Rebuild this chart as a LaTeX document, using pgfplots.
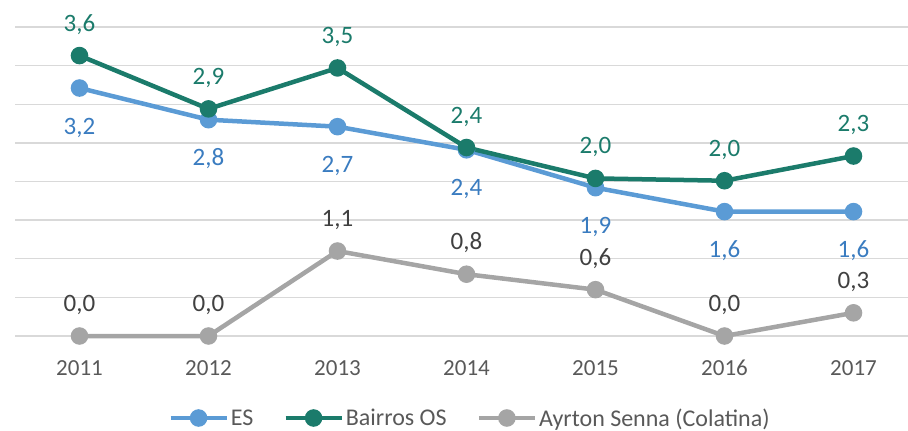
\documentclass[border=0pt]{standalone}
\usepackage{pgfplots}
\pgfplotsset{compat=1.18}
\usepackage{pgfplotstable}
\usepackage{fontspec}
\setmainfont{Carlito}
\definecolor{esline}{HTML}{5B9BD5}
\definecolor{eslab}{HTML}{3A7CC0}
\definecolor{bairros}{HTML}{1B7B6B}
\definecolor{ayrton}{HTML}{A5A5A5}
\definecolor{ayrlab}{HTML}{404040}
\definecolor{gridc}{HTML}{D9D9D9}
\definecolor{txt}{HTML}{595959}

\pgfplotstableread{
x y lab
0 3.21 3,2
1 2.80 2,8
2 2.71 2,7
3 2.41 2,4
4 1.92 1,9
5 1.61 1,6
6 1.61 1,6
}\es
\pgfplotstableread{
x y lab
0 3.63 3,6
1 2.94 2,9
2 3.47 3,5
3 2.44 2,4
4 2.04 2,0
5 2.01 2,0
6 2.33 2,3
}\bairros
\pgfplotstableread{
x y lab
0 0.00 0,0
1 0.00 0,0
2 1.10 1,1
3 0.80 0,8
4 0.60 0,6
5 0.00 0,0
6 0.30 0,3
}\ayrton

\begin{document}
\begin{tikzpicture}
\path[use as bounding box] (0pt,0pt) rectangle (908pt,-431pt);
\begin{axis}[
  at={(15pt,-336pt)}, anchor=south west,
  scale only axis, width=893pt, height=309pt,
  xmin=-0.5, xmax=6.4225, ymin=0, ymax=4,
  clip=false,
  axis line style={draw=none},
  ytick={0,0.5,...,4}, yticklabels={},
  ymajorgrids, grid style={gridc, line width=1.3pt},
  major tick style={draw=none},
  xtick={0,...,6},
  xticklabels={2011,2012,2013,2014,2015,2016,2017},
  xticklabel style={font=\fontsize{23}{27}\selectfont, text=txt, anchor=base, yshift=-39.5pt},
  legend columns=3,
  legend style={at={(axis description cs:0.5095,-0.2654)}, anchor=center, draw=none, fill=none,
    font=\fontsize{24}{28}\selectfont, text=txt, inner sep=0pt,
    nodes={inner xsep=2pt, inner ysep=0pt},
    /tikz/every even column/.append style={column sep=28pt}},
  legend image code/.code={
    \draw[line width=4.5pt] (0pt,0pt) -- (56pt,0pt);
    \fill (28pt,0pt) circle (6.5pt);
  },
  nodes near coords,
  point meta=explicit symbolic,
]
\addplot[esline, line width=4.5pt, mark=*, mark size=6.5pt,
  every node near coord/.style={font=\fontsize{25}{30}\selectfont, text=eslab, anchor=base, yshift=-46pt}]
  table[x=x, y=y, meta=lab] {\es};
\addlegendentry{ES}
\addplot[bairros, line width=4.5pt, mark=*, mark size=6.5pt,
  every node near coord/.style={font=\fontsize{25}{30}\selectfont, text=bairros, anchor=base, yshift=24.5pt}]
  table[x=x, y=y, meta=lab] {\bairros};
\addlegendentry{Bairros OS}
\addplot[ayrton, line width=4.5pt, mark=*, mark size=6.5pt,
  every node near coord/.style={font=\fontsize{25}{30}\selectfont, text=ayrlab, anchor=base, yshift=24.5pt}]
  table[x=x, y=y, meta=lab] {\ayrton};
\addlegendentry{Ayrton Senna (Colatina)}
\end{axis}
\end{tikzpicture}
\end{document}
